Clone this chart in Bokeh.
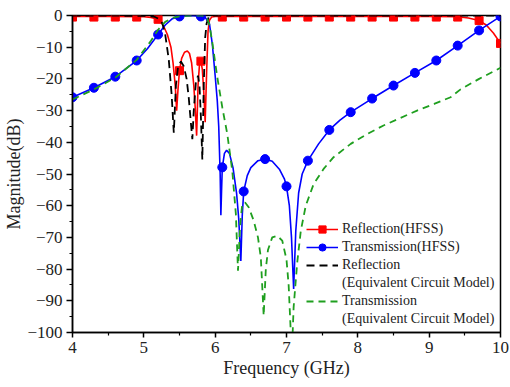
from bokeh.plotting import figure
from bokeh.models import Legend, LegendItem, Range1d, FixedTicker
from bokeh.embed import file_html
from bokeh.resources import INLINE

# ---------------- data ----------------
x_ticks = [4, 5, 6, 7, 8, 9, 10]
x_minor = [4.5, 5.5, 6.5, 7.5, 8.5, 9.5]
y_ticks = [-100, -90, -80, -70, -60, -50, -40, -30, -20, -10, 0]
y_minor = [-95, -85, -75, -65, -55, -45, -35, -25, -15, -5]

# Reflection (HFSS) - line
refl_hfss_f = [4.0, 4.5, 5.0, 5.1, 5.2, 5.27, 5.33, 5.38, 5.41, 5.44, 5.46, 5.48, 5.5,
               5.53, 5.57, 5.61, 5.64, 5.67, 5.7, 5.72, 5.74, 5.76, 5.78, 5.8, 5.82,
               5.84, 5.86, 5.88, 5.9, 5.92, 5.95, 6.0, 7.0, 8.0, 9.0, 9.4, 9.55, 9.7,
               9.8, 9.9, 10.0]
refl_hfss_db = [-0.3, -0.3, -0.4, -0.6, -1.2, -3.0, -6.0, -10.0, -15.0, -22.0, -30.0, -23.0, -17.4,
                -13.5, -11.6, -11.2, -12.0, -15.0, -22.0, -29.0, -37.9, -22.0, -15.5, -14.4, -17.0,
                -24.0, -33.7, -18.0, -5.0, -1.5, -0.5, -0.3, -0.3, -0.3, -0.3, -0.4, -0.8, -1.6,
                -3.0, -5.5, -8.8]
# Reflection (HFSS) - markers
refl_mark_f = [4.0, 4.3, 4.6, 4.9, 5.2, 5.5, 5.8, 6.1, 6.4, 6.7, 7.0, 7.3, 7.6, 7.9,
               8.2, 8.5, 8.8, 9.1, 9.4, 9.7, 10.0]
refl_mark_db = [-0.5, -0.5, -0.5, -0.5, -1.2, -17.4, -14.4, -0.5, -0.5, -0.5, -0.5, -0.5, -0.5, -0.5,
                -0.5, -0.5, -0.5, -0.5, -0.5, -1.6, -8.8]

# Transmission (HFSS) - line
trans_hfss_f = [4.0, 4.3, 4.6, 4.9, 5.05, 5.2, 5.3, 5.4, 5.5, 5.6, 5.7, 5.8, 5.86, 5.92,
                5.96, 6.0, 6.03, 6.05, 6.07, 6.08, 6.09, 6.1, 6.13, 6.16, 6.2, 6.25, 6.3,
                6.33, 6.36, 6.38, 6.4, 6.45, 6.5, 6.6, 6.7, 6.8, 6.9, 6.97, 7.0, 7.04,
                7.07, 7.1, 7.13, 7.17, 7.22, 7.3, 7.45, 7.6, 7.75, 7.9, 8.2, 8.5, 8.8,
                9.1, 9.4, 9.7, 10.0]
trans_hfss_db = [-25.8, -22.8, -19.3, -14.2, -10.5, -6.0, -3.0, -1.0, -0.3, -0.1, -0.1, -0.3, -0.6, -2.6,
                 -9.0, -19.0, -27.0, -35.0, -50.0, -63.0, -55.0, -47.9, -43.5, -42.5, -43.5, -48.0, -56.0,
                 -64.0, -77.4, -63.0, -55.5, -50.5, -48.0, -45.8, -45.3, -46.0, -48.5, -51.5, -53.9, -60.0,
                 -70.0, -86.3, -68.0, -56.0, -50.0, -45.8, -40.5, -36.1, -33.0, -30.5, -26.2, -22.1, -18.1,
                 -14.2, -9.5, -4.7, -0.3]
# Transmission (HFSS) - markers
trans_mark_f = [4.0, 4.3, 4.6, 4.9, 5.2, 5.5, 5.8, 6.1, 6.4, 6.7, 7.0, 7.3, 7.6, 7.9,
                8.2, 8.5, 8.8, 9.1, 9.4, 9.7, 10.0]
trans_mark_db = [-25.8, -22.8, -19.3, -14.2, -6.0, -0.3, -0.3, -47.9, -55.5, -45.3, -53.9, -45.8, -36.1, -30.5,
                 -26.2, -22.1, -18.1, -14.2, -9.5, -4.7, -0.3]

# Reflection (Equivalent Circuit Model)
refl_ecm_f = [4.0, 5.0, 5.15, 5.22, 5.26, 5.3, 5.35, 5.39, 5.42, 5.45, 5.48, 5.52, 5.56,
              5.6, 5.63, 5.66, 5.68, 5.7, 5.73, 5.76, 5.78, 5.8, 5.82, 5.84, 5.86, 5.88,
              5.91, 5.95, 6.0, 10.0]
refl_ecm_db = [0.0, -0.1, -0.4, -1.2, -2.5, -6.0, -14.0, -25.0, -37.0, -22.0, -16.0, -14.5, -16.0,
               -20.0, -26.0, -34.0, -39.0, -30.0, -21.0, -19.0, -22.0, -32.0, -45.5, -22.0, -7.0, -2.5,
               -0.5, -0.1, 0.0, 0.0]

# Transmission (Equivalent Circuit Model)
trans_ecm_f = [4.0, 4.3, 4.6, 4.9, 5.1, 5.2, 5.3, 5.4, 5.5, 5.6, 5.8, 5.88, 5.92, 5.96,
               6.03, 6.1, 6.17, 6.24, 6.29, 6.32, 6.35, 6.38, 6.42, 6.47, 6.54, 6.6, 6.64,
               6.68, 6.71, 6.74, 6.8, 6.87, 6.94, 7.0, 7.03, 7.06, 7.08, 7.1, 7.15, 7.2,
               7.27, 7.38, 7.52, 7.66, 7.9, 8.13, 8.36, 8.6, 8.83, 9.07, 9.3, 9.44, 9.7, 10.0]
trans_ecm_db = [-26.5, -23.3, -19.6, -14.0, -8.0, -4.5, -2.0, -0.8, -0.3, -0.1, 0.0, -0.5, -3.0, -8.5,
                -19.5, -29.0, -37.4, -49.0, -62.6, -80.5, -66.0, -59.5, -59.0, -60.5, -64.7, -70.0, -76.3,
                -94.7, -80.0, -74.0, -70.0, -69.5, -71.0, -77.0, -85.0, -100.0, -104.0, -92.0, -78.0, -68.0,
                -60.0, -53.2, -48.4, -44.7, -40.5, -37.4, -34.7, -32.3, -30.0, -27.9, -25.8, -23.3, -20.0, -16.5]

legend_labels = ["Reflection(HFSS)", "Transmission(HFSS)", "Reflection",
                 "(Equivalent Circuit Model)", "Transmission", "(Equivalent Circuit Model)"]

# ---------------- figure ----------------
FONT = "Liberation Serif"
RED = "#FF0000"
BLUE = "#0000FF"
BLACK = "#000000"
GREEN = "#1F9F1F"

p = figure(width=510, height=387, output_backend="svg", toolbar_location=None,
           x_range=Range1d(4, 10), y_range=Range1d(-100, 0),
           min_border_left=72, min_border_right=10, min_border_top=15, min_border_bottom=55,
           background_fill_color="white", border_fill_color="white")
p.grid.visible = False
p.outline_line_color = "black"
p.outline_line_width = 1.5
p.outline_line_alpha = 1.0

p.xaxis.ticker = FixedTicker(ticks=x_ticks, minor_ticks=x_minor)
p.yaxis.ticker = FixedTicker(ticks=y_ticks, minor_ticks=y_minor)
p.xaxis.axis_label = "Frequency (GHz)"
p.yaxis.axis_label = "Magnitude(dB)"

for ax in (p.xaxis[0], p.yaxis[0]):
    ax.axis_line_color = "black"
    ax.axis_line_width = 1.5
    ax.major_tick_line_color = "black"
    ax.major_tick_line_width = 1.5
    ax.minor_tick_line_color = "black"
    ax.minor_tick_line_width = 1.2
    ax.major_tick_in = 0
    ax.minor_tick_in = 0
    ax.minor_tick_out = 3
    ax.major_label_text_font = FONT
    ax.major_label_text_font_size = "17px"
    ax.major_label_text_color = "#222222"
    ax.axis_label_text_font = FONT
    ax.axis_label_text_font_size = "18px"
    ax.axis_label_text_font_style = "normal"
    ax.axis_label_text_color = "#222222"

p.xaxis.major_tick_out = 5
p.yaxis.major_tick_out = 6
p.xaxis.major_label_standoff = 4
p.yaxis.major_label_standoff = 4
p.xaxis.axis_label_standoff = 2
p.yaxis.axis_label_standoff = 0

r_line = p.line(refl_hfss_f, refl_hfss_db, line_color=RED, line_width=1.6)
r_pts = p.scatter(refl_mark_f, refl_mark_db, marker="square", size=8,
                  fill_color=RED, line_color=RED)
b_line = p.line(trans_hfss_f, trans_hfss_db, line_color=BLUE, line_width=1.6)
b_pts = p.scatter(trans_mark_f, trans_mark_db, marker="circle", size=9,
                  fill_color=BLUE, line_color=BLUE)
k_line = p.line(refl_ecm_f, refl_ecm_db, line_color=BLACK, line_width=1.8, line_dash="8 5")
g_line = p.line(trans_ecm_f, trans_ecm_db, line_color=GREEN, line_width=1.8, line_dash="7 5")

dummy1 = p.line([], [], line_alpha=0)
dummy2 = p.line([], [], line_alpha=0)

items = [
    LegendItem(label=legend_labels[0], renderers=[r_line, r_pts]),
    LegendItem(label=legend_labels[1], renderers=[b_line, b_pts]),
    LegendItem(label=legend_labels[2], renderers=[k_line]),
    LegendItem(label=legend_labels[3], renderers=[dummy1]),
    LegendItem(label=legend_labels[4], renderers=[g_line]),
    LegendItem(label=legend_labels[5], renderers=[dummy2]),
]
legend = Legend(items=items, location=(230, 0))
legend.label_text_font = FONT
legend.label_text_font_size = "14px"
legend.label_text_color = "#222222"
legend.glyph_width = 32
legend.glyph_height = 18
legend.label_height = 18
legend.label_standoff = 4
legend.spacing = 0
legend.padding = 4
legend.margin = 0
legend.border_line_alpha = 0
legend.background_fill_alpha = 0
p.add_layout(legend, "center")

open("out.html", "w").write(file_html(p, INLINE))
